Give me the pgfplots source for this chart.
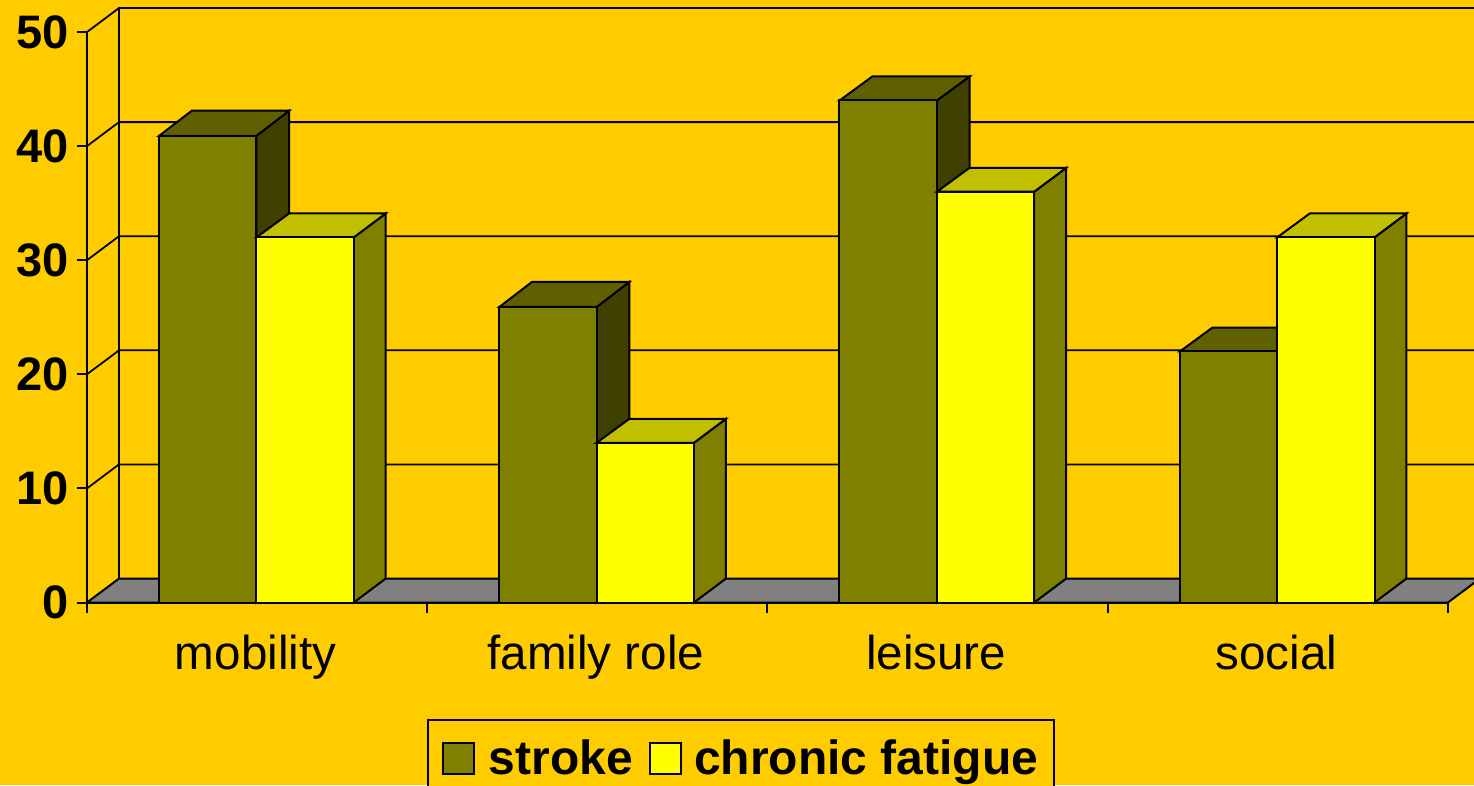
\documentclass[border=0pt]{standalone}
\usepackage{fontspec}
\setmainfont{Liberation Sans}
\usepackage{pgfplots}
\pgfplotsset{compat=1.18}
\definecolor{bg}{HTML}{FFCC00}
\definecolor{olive1}{HTML}{808000}
\definecolor{olivetop}{HTML}{606000}
\definecolor{oliveside}{HTML}{404000}
\definecolor{ytop}{HTML}{C0C000}
\definecolor{yfront}{HTML}{FFFF00}
\definecolor{floorc}{HTML}{808080}
\pgfplotsset{
  poly/.style={forget plot,no marks,draw=black,line width=2pt,line join=miter},
  wall/.style={forget plot,no marks,draw=black,line width=1.8pt},
  swatch/.style={legend image code/.code={\draw[##1,draw=black,line width=2pt] (0pt,-16pt) rectangle (31pt,15pt);}},
}
\begin{document}
\begin{tikzpicture}
\path[use as bounding box] (0,0) rectangle (1474pt,785pt);
\fill[bg] (0,0) rectangle (1474pt,785pt);
\clip (0,0) rectangle (1474pt,785pt);
\begin{axis}[
  at={(87pt,182.5pt)}, anchor=south west,
  scale only axis, width=1361pt, height=570.5pt,
  xmin=-0.5, xmax=3.5, ymin=0, ymax=50,
  clip=false,
  axis x line=bottom, axis y line=left,
  axis line style={-, black, line width=2pt},
  tick align=outside,
  major tick length=10pt, minor tick length=10pt,
  every tick/.style={black,line width=2pt},
  major x tick style={draw=none},
  minor x tick style={black,line width=2pt},
  xtick={0,1,2,3},
  xticklabels={mobility,family role,leisure,social},
  minor xtick={-0.5,0.5,1.5,2.5,3.5},
  ytick={0,10,20,30,40,50},
  /pgf/number format/assume math mode=true,
  xticklabel style={font=\fontsize{47.6}{48}\selectfont, yshift=-19pt, xshift=-1.5pt},
  yticklabel style={font=\fontsize{47}{47}\selectfont\bfseries, xshift=-5pt},
  legend style={
    at={(axis description cs:0.2498,-0.2045)}, anchor=north west,
    draw=black, line width=2pt, fill=bg,
    font=\fontsize{48}{48}\selectfont\bfseries,
    legend columns=2, inner xsep=14pt, inner ysep=18pt,
    /tikz/column 1/.style={column sep=12pt},
    /tikz/column 2/.style={column sep=14pt},
    /tikz/column 3/.style={column sep=10pt},
    cells={anchor=west},
  },
]
% floor
\addplot[poly,fill=floorc] coordinates {(-0.5,0) (-0.406,2.1) (3.594,2.1) (3.5,0)} --cycle;
% back wall
\addplot[wall] coordinates {(-0.406,2.1) (-0.406,52.1) (3.7,52.1)};
\addplot[wall] coordinates {(-0.5,50) (-0.406,52.1)};
\addplot[wall] coordinates {(-0.5,40) (-0.406,42.1) (3.7,42.1)};
\addplot[wall] coordinates {(-0.5,30) (-0.406,32.1) (3.7,32.1)};
\addplot[wall] coordinates {(-0.5,20) (-0.406,22.1) (3.7,22.1)};
\addplot[wall] coordinates {(-0.5,10) (-0.406,12.1) (3.7,12.1)};
% stroke: side and top faces
\addplot[poly,fill=oliveside] coordinates {(-0.002,0) (-0.002,40.9) (0.094,43.1) (0.094,2.1)} --cycle;
\addplot[poly,fill=olivetop] coordinates {(-0.288,40.9) (-0.002,40.9) (0.094,43.1) (-0.192,43.1)} --cycle;
\addplot[poly,fill=oliveside] coordinates {(0.998,0) (0.998,25.9) (1.094,28.1) (1.094,2.1)} --cycle;
\addplot[poly,fill=olivetop] coordinates {(0.712,25.9) (0.998,25.9) (1.094,28.1) (0.808,28.1)} --cycle;
\addplot[poly,fill=oliveside] coordinates {(1.998,0) (1.998,44) (2.094,46.1) (2.094,2.1)} --cycle;
\addplot[poly,fill=olivetop] coordinates {(1.712,44) (1.998,44) (2.094,46.1) (1.808,46.1)} --cycle;
\addplot[poly,fill=oliveside] coordinates {(2.998,0) (2.998,22) (3.094,24.1) (3.094,2.1)} --cycle;
\addplot[poly,fill=olivetop] coordinates {(2.712,22) (2.998,22) (3.094,24.1) (2.808,24.1)} --cycle;
% stroke: front faces
\addplot[ybar,bar width=97.5pt,bar shift=-49.5pt,swatch,fill=olive1,draw=black,line width=2pt]
  coordinates {(0,40.9) (1,25.9) (2,44) (3,22)};
\addlegendentry{stroke}
% chronic fatigue: side and top faces
\addplot[poly,fill=olive1] coordinates {(0.284,0) (0.284,32) (0.378,34.1) (0.378,2.1)} --cycle;
\addplot[poly,fill=ytop] coordinates {(-0.002,32) (0.284,32) (0.378,34.1) (0.094,34.1)} --cycle;
\addplot[poly,fill=olive1] coordinates {(1.284,0) (1.284,14) (1.378,16.1) (1.378,2.1)} --cycle;
\addplot[poly,fill=ytop] coordinates {(0.998,14) (1.284,14) (1.378,16.1) (1.094,16.1)} --cycle;
\addplot[poly,fill=olive1] coordinates {(2.284,0) (2.284,36) (2.378,38.1) (2.378,2.1)} --cycle;
\addplot[poly,fill=ytop] coordinates {(1.998,36) (2.284,36) (2.378,38.1) (2.094,38.1)} --cycle;
\addplot[poly,fill=olive1] coordinates {(3.284,0) (3.284,32) (3.378,34.1) (3.378,2.1)} --cycle;
\addplot[poly,fill=ytop] coordinates {(2.998,32) (3.284,32) (3.378,34.1) (3.094,34.1)} --cycle;
% chronic fatigue: front faces
\addplot[ybar,bar width=97.5pt,bar shift=48pt,swatch,fill=yfront,draw=black,line width=2pt]
  coordinates {(0,32) (1,14) (2,36) (3,32)};
\addlegendentry{chronic fatigue}
\end{axis}
\end{tikzpicture}
\end{document}
